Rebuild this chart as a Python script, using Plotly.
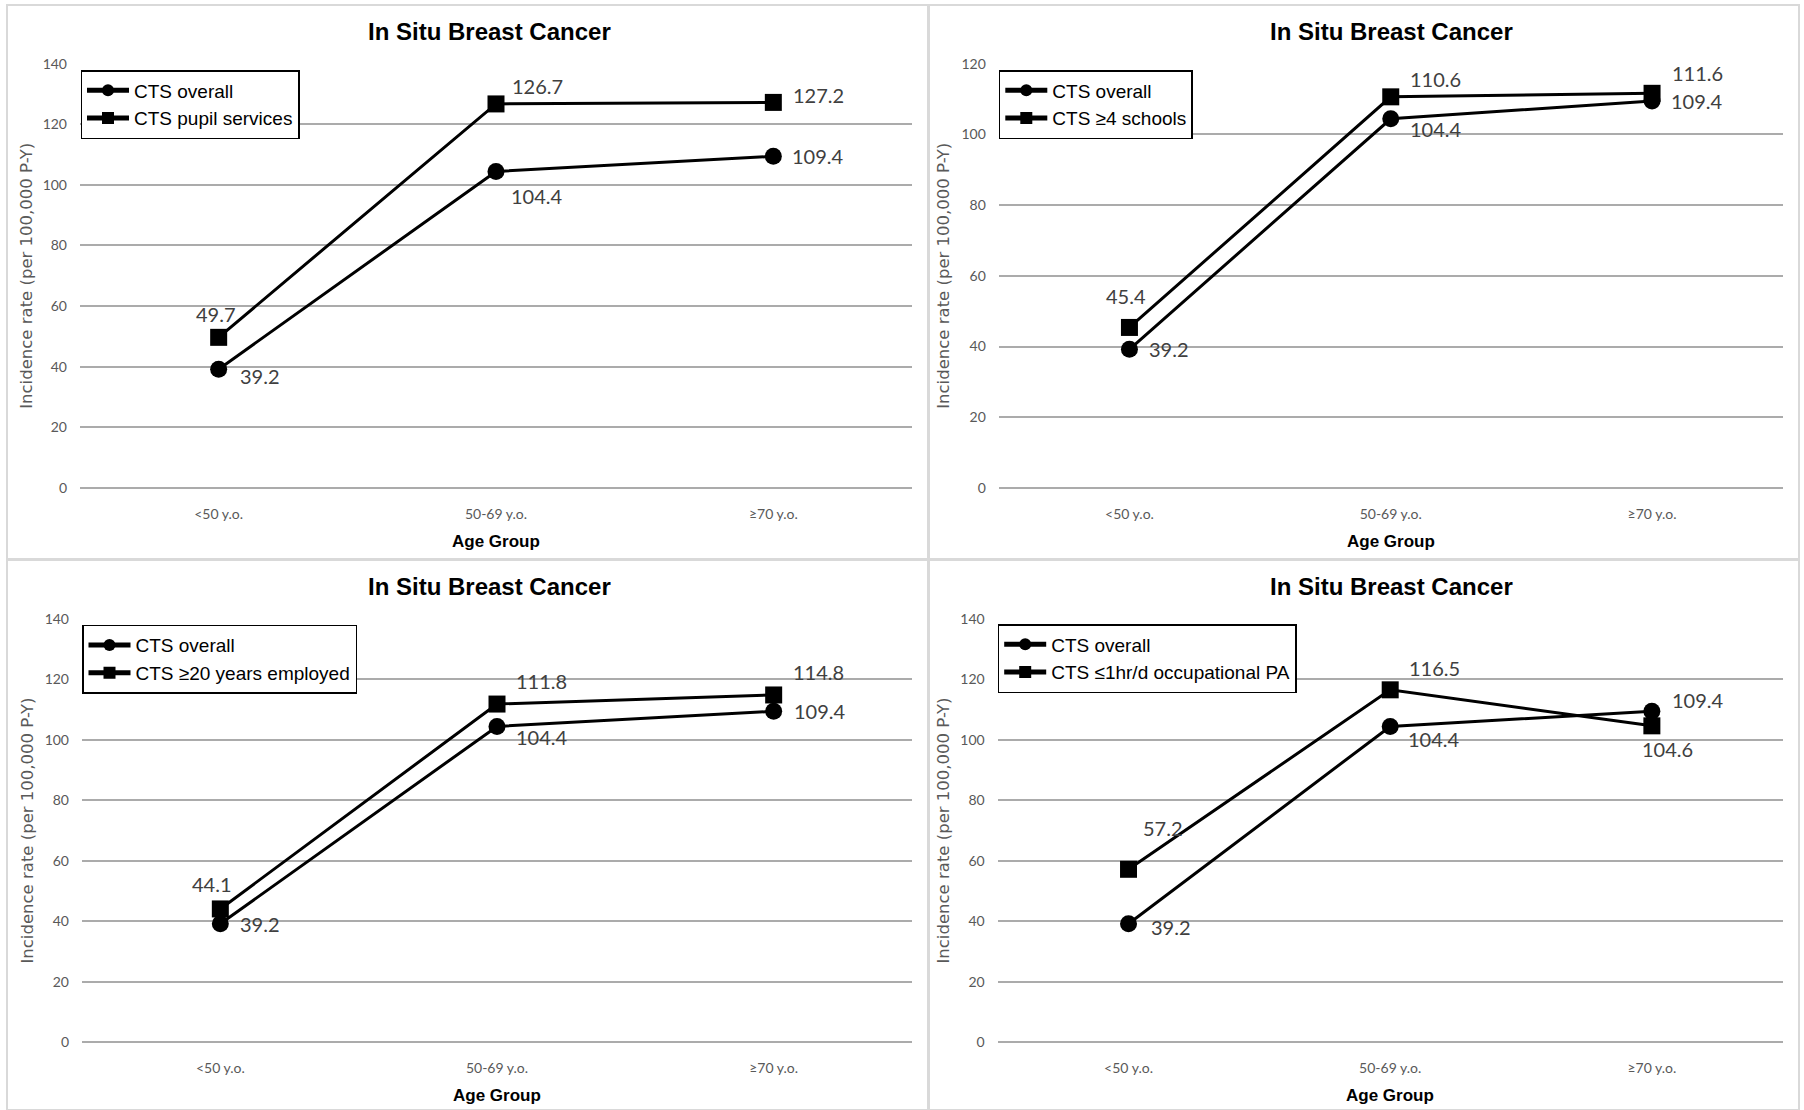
import plotly.graph_objects as go

# Age groups on the category axis
age_groups = ["<50 y.o.", "50-69 y.o.", "≥70 y.o."]

# Incidence rates of in situ breast cancer (per 100,000 person-years)
cts_overall = [39.2, 104.4, 109.4]
pupil_services = [49.7, 126.7, 127.2]
four_schools = [45.4, 110.6, 111.6]
years_employed = [44.1, 111.8, 114.8]
occupational_pa = [57.2, 116.5, 104.6]

subgroup_names = [
    "CTS pupil services",
    "CTS ≥4 schools",
    "CTS ≥20 years employed",
    "CTS ≤1hr/d occupational PA",
]
subgroup_values = [pupil_services, four_schools, years_employed, occupational_pa]
y_max = [140, 120, 140, 140]
y_step = 20

panel_title = "In Situ Breast Cancer"
x_title = "Age Group"
y_title = "Incidence rate (per 100,000 P-Y)"

W, H = 1804, 1110


def fx(p):
    return p / W


def fy(p):
    return 1 - p / H


# Plot boxes in pixels: left, right, top, bottom
boxes = [
    (80, 912, 63.6, 488),
    (998.8, 1782.7, 63.6, 488),
    (82, 912, 618.7, 1042.4),
    (997.7, 1782.7, 618.7, 1042.4),
]
# Panel frames in pixels
frames = [
    (7, 5, 928, 559),
    (929, 5, 1799, 559),
    (7, 560, 928, 1113),
    (929, 560, 1799, 1113),
]
title_pos = [(489, 31), (1391, 31), (489, 586), (1391, 586)]
xtitle_y = [541, 541, 1095, 1095]
ytitle_x = [27, 944, 28, 944]
legend_pos = [(80.5, 70), (998.8, 70), (82, 624.7), (997.7, 624)]

# Label offsets (dx, dy in px, dy downward) for each point
overall_offsets = [
    [(41, 7), (41, 24), (45, 0)],
    [(40, 0), (45, 10), (45, 0)],
    [(40, 0), (45, 11), (46, 0)],
    [(42, 3), (44, 13), (46, -11)],
]
subgroup_offsets = [
    [(-3, -23), (41, -18), (45, -7)],
    [(-3, -31), (45, -18), (45, -20)],
    [(-8, -25), (44, -23), (45, -23)],
    [(34, -41), (44, -22), (16, 23)],
]

LABEL_FONT = dict(family="Lato, Carlito, Liberation Sans, sans-serif", size=20, color="#404040")
TICK_FONT = dict(family="Lato, Carlito, Liberation Sans, sans-serif", size=14, color="#595959")
GRID = "#ababab"

fig = go.Figure()
annotations = []
shapes = []
layout = {}

for i in range(4):
    n = "" if i == 0 else str(i + 1)
    xa, ya = "x" + n, "y" + n
    leg = "legend" + n
    left, right, top, bottom = boxes[i]

    fig.add_trace(go.Scatter(
        x=age_groups, y=cts_overall, name="CTS overall",
        mode="lines+markers", xaxis=xa, yaxis=ya, legend=leg,
        line=dict(color="black", width=3),
        marker=dict(symbol="circle", size=17, color="black"),
        cliponaxis=False, hoverinfo="skip",
    ))
    fig.add_trace(go.Scatter(
        x=age_groups, y=subgroup_values[i], name=subgroup_names[i],
        mode="lines+markers", xaxis=xa, yaxis=ya, legend=leg,
        line=dict(color="black", width=3),
        marker=dict(symbol="square", size=17, color="black"),
        cliponaxis=False, hoverinfo="skip",
    ))

    layout["xaxis" + n] = dict(
        domain=[fx(left), fx(right)], anchor=ya,
        type="category", range=[-0.5, 2.5],
        showgrid=False, showline=False, zeroline=False, automargin=False,
        tickfont=TICK_FONT, ticks="", ticklabelstandoff=16,
    )
    layout["yaxis" + n] = dict(
        domain=[fy(bottom), fy(top)], anchor=xa,
        range=[0, y_max[i]], dtick=y_step, tick0=0,
        showgrid=True, gridcolor=GRID, gridwidth=2,
        zeroline=True, zerolinecolor=GRID, zerolinewidth=2,
        showline=False, ticks="", automargin=False,
        tickfont=TICK_FONT, ticklabelstandoff=12,
    )
    lx, ly = legend_pos[i]
    layout[leg] = dict(
        x=fx(lx), y=fy(ly), xanchor="left", yanchor="top",
        bgcolor="white", bordercolor="black", borderwidth=1.5,
        font=dict(family="Liberation Sans, Arial, sans-serif", size=19, color="black"),
        itemsizing="constant", itemwidth=42, tracegroupgap=0,
    )

    # Panel title, axis titles
    tx, ty = title_pos[i]
    annotations.append(dict(
        text=f"<b>{panel_title}</b>", x=fx(tx), y=fy(ty), xref="paper", yref="paper",
        showarrow=False, xanchor="center", yanchor="middle",
        font=dict(family="Liberation Sans, Arial, sans-serif", size=24, color="black"),
    ))
    annotations.append(dict(
        text=f"<b>{x_title}</b>", x=fx((left + right) / 2), y=fy(xtitle_y[i]),
        xref="paper", yref="paper", showarrow=False, xanchor="center", yanchor="middle",
        font=dict(family="Liberation Sans, Arial, sans-serif", size=17, color="black"),
    ))
    annotations.append(dict(
        text=y_title, x=fx(ytitle_x[i]), y=fy((top + bottom) / 2),
        xref="paper", yref="paper", showarrow=False, textangle=-90,
        xanchor="center", yanchor="middle",
        font=dict(family="DejaVu Sans, sans-serif", size=16.5, color="#595959"),
    ))

    # Value labels
    for series, offsets in ((cts_overall, overall_offsets[i]),
                            (subgroup_values[i], subgroup_offsets[i])):
        for j, v in enumerate(series):
            dx, dy = offsets[j]
            annotations.append(dict(
                text=f"{v:.1f}", x=age_groups[j], y=v, xref=xa, yref=ya,
                showarrow=False, xshift=dx, yshift=-dy,
                xanchor="center", yanchor="middle", font=LABEL_FONT,
            ))

    x0, y0, x1, y1 = frames[i]
    shapes.append(dict(
        type="rect", xref="paper", yref="paper",
        x0=fx(x0), x1=fx(x1), y0=fy(min(y1, H)), y1=fy(y0),
        line=dict(color="#d9d9d9", width=2), layer="below",
    ))

fig.update_layout(
    width=W, height=H,
    margin=dict(l=0, r=0, t=0, b=0, autoexpand=False),
    paper_bgcolor="white", plot_bgcolor="white",
    annotations=annotations, shapes=shapes,
    showlegend=True,
    **layout,
)

fig.write_html(
    "out.html",
    include_plotlyjs=True,
    config={"displayModeBar": False},
    post_script="document.body.style.margin='0';",
)
